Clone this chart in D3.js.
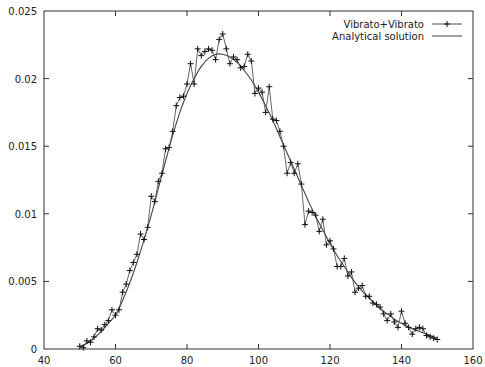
<!DOCTYPE html>
<html>
<head>
<meta charset="utf-8">
<script src="https://cdn.jsdelivr.net/npm/d3@7"></script>
<style>
  body { margin: 0; background: #fff; }
  svg text { font-family: "DejaVu Sans", sans-serif; font-size: 10px; fill: #222; }
</style>
</head>
<body>
<div id="chart"></div>
<script>
// simulated distribution, one value per x from 50 to 150
const simX = d3.range(50, 151);
const simY = [
  0.0002, 0.0001, 0.0006, 0.0005, 0.0009, 0.0015, 0.0014, 0.0018, 0.0021, 0.0029,
  0.0025, 0.0029, 0.0042, 0.0048, 0.0058, 0.0064, 0.0070, 0.0085, 0.0081, 0.0090,
  0.0113, 0.0109, 0.0124, 0.0130, 0.0148, 0.0149, 0.0161, 0.0180, 0.0186, 0.0187,
  0.0196, 0.0211, 0.0196, 0.0222, 0.0217, 0.0220, 0.0222, 0.0221, 0.0214, 0.0229,
  0.0233, 0.0222, 0.0211, 0.0216, 0.0214, 0.0208, 0.0209, 0.0218, 0.0213, 0.0189,
  0.0193, 0.0190, 0.0175, 0.0194, 0.0170, 0.0169, 0.0161, 0.0150, 0.0130, 0.0138,
  0.0130, 0.0137, 0.0122, 0.0092, 0.0102, 0.0101, 0.0099, 0.0087, 0.0096, 0.0077,
  0.0080, 0.0074, 0.0061, 0.0061, 0.0067, 0.0054, 0.0057, 0.0042, 0.0045, 0.0047,
  0.0039, 0.0039, 0.0034, 0.0033, 0.0031, 0.0026, 0.0021, 0.0026, 0.0020, 0.0016,
  0.0028, 0.0019, 0.0016, 0.0011, 0.0015, 0.0016, 0.0015, 0.0010, 0.0009, 0.0008,
  0.0007
];

// analytical curve, read every 2 units
const anaX = d3.range(50, 151, 2);
const anaY = [
  0.0002, 0.0004, 0.0008, 0.0013, 0.0019, 0.0025, 0.0036, 0.0049, 0.0064, 0.0081,
  0.0099, 0.0119, 0.0139, 0.0158, 0.0175, 0.0189, 0.0200, 0.0209, 0.0215, 0.0218,
  0.0218, 0.0216, 0.0212, 0.0206, 0.0199, 0.0190, 0.0180, 0.0169, 0.0157, 0.0145,
  0.0133, 0.0121, 0.0109, 0.0098, 0.0088, 0.0078, 0.0069, 0.0061, 0.0053, 0.0046,
  0.0040, 0.0035, 0.0030, 0.0026, 0.0022, 0.0019, 0.0016, 0.0014, 0.0012, 0.0010,
  0.0008
];

const xTicks = [40, 60, 80, 100, 120, 140, 160];
const yTicks = [0, 0.005, 0.01, 0.015, 0.02, 0.025];
const yTickLabels = ["0", "0.005", "0.01", "0.015", "0.02", "0.025"];
const legendLabels = ["Vibrato+Vibrato", "Analytical solution"];

const width = 485, height = 367;
const margin = { top: 11, right: 12, bottom: 18, left: 44 };

const svg = d3.select('#chart').append('svg')
  .attr('width', width)
  .attr('height', height);

const x = d3.scaleLinear().domain([40, 160]).range([margin.left, width - margin.right]);
const y = d3.scaleLinear().domain([0, 0.025]).range([height - margin.bottom, margin.top]);

// frame
svg.append('rect')
  .attr('x', x(40)).attr('y', y(0.025))
  .attr('width', x(160) - x(40)).attr('height', y(0) - y(0.025))
  .attr('fill', 'none').attr('stroke', '#333').attr('stroke-width', 1);

// ticks inward on all sides (gnuplot mirror)
const tickLen = 5;
const axisG = svg.append('g').attr('stroke', '#333').attr('stroke-width', 1);
xTicks.slice(1, -1).forEach(t => {
  axisG.append('line').attr('x1', x(t)).attr('x2', x(t)).attr('y1', y(0)).attr('y2', y(0) - tickLen);
  axisG.append('line').attr('x1', x(t)).attr('x2', x(t)).attr('y1', y(0.025)).attr('y2', y(0.025) + tickLen);
});
yTicks.slice(1, -1).forEach(t => {
  axisG.append('line').attr('x1', x(40)).attr('x2', x(40) + tickLen).attr('y1', y(t)).attr('y2', y(t));
  axisG.append('line').attr('x1', x(160)).attr('x2', x(160) - tickLen).attr('y1', y(t)).attr('y2', y(t));
});

// tick labels
svg.append('g').selectAll('text')
  .data(xTicks).enter().append('text')
  .attr('x', d => x(d)).attr('y', y(0) + 15)
  .attr('text-anchor', 'middle')
  .text(d => d);

svg.append('g').selectAll('text')
  .data(yTicks).enter().append('text')
  .attr('x', x(40) - 7).attr('y', d => y(d) + 4)
  .attr('text-anchor', 'end')
  .text((d, i) => yTickLabels[i]);

// simulated series
const simData = simX.map((v, i) => [v, simY[i]]);
const anaData = anaX.map((v, i) => [v, anaY[i]]);

const line = d3.line().x(d => x(d[0])).y(d => y(d[1]));
const smooth = d3.line().x(d => x(d[0])).y(d => y(d[1])).curve(d3.curveCatmullRom);

svg.append('path')
  .datum(anaData)
  .attr('d', smooth)
  .attr('fill', 'none').attr('stroke', '#444').attr('stroke-width', 1.1);

svg.append('path')
  .datum(simData)
  .attr('d', line)
  .attr('fill', 'none').attr('stroke', '#555').attr('stroke-width', 0.9);

const cross = 3;
const pts = svg.append('g').attr('stroke', '#111').attr('stroke-width', 1);
simData.forEach(d => {
  pts.append('line').attr('x1', x(d[0]) - cross).attr('x2', x(d[0]) + cross).attr('y1', y(d[1])).attr('y2', y(d[1]));
  pts.append('line').attr('x1', x(d[0])).attr('x2', x(d[0])).attr('y1', y(d[1]) - cross).attr('y2', y(d[1]) + cross);
});

// legend
const lg = svg.append('g');
legendLabels.forEach((lab, i) => {
  const ly = 24 + i * 12;
  lg.append('text').attr('x', 424).attr('y', ly + 3.5).attr('text-anchor', 'end').text(lab);
  lg.append('line').attr('x1', 432).attr('x2', 462).attr('y1', ly).attr('y2', ly)
    .attr('stroke', i === 0 ? '#555' : '#444').attr('stroke-width', 1);
  if (i === 0) {
    lg.append('line').attr('x1', 444).attr('x2', 450).attr('y1', ly).attr('y2', ly).attr('stroke', '#111');
    lg.append('line').attr('x1', 447).attr('x2', 447).attr('y1', ly - cross).attr('y2', ly + cross).attr('stroke', '#111');
  }
});
</script>
</body>
</html>
